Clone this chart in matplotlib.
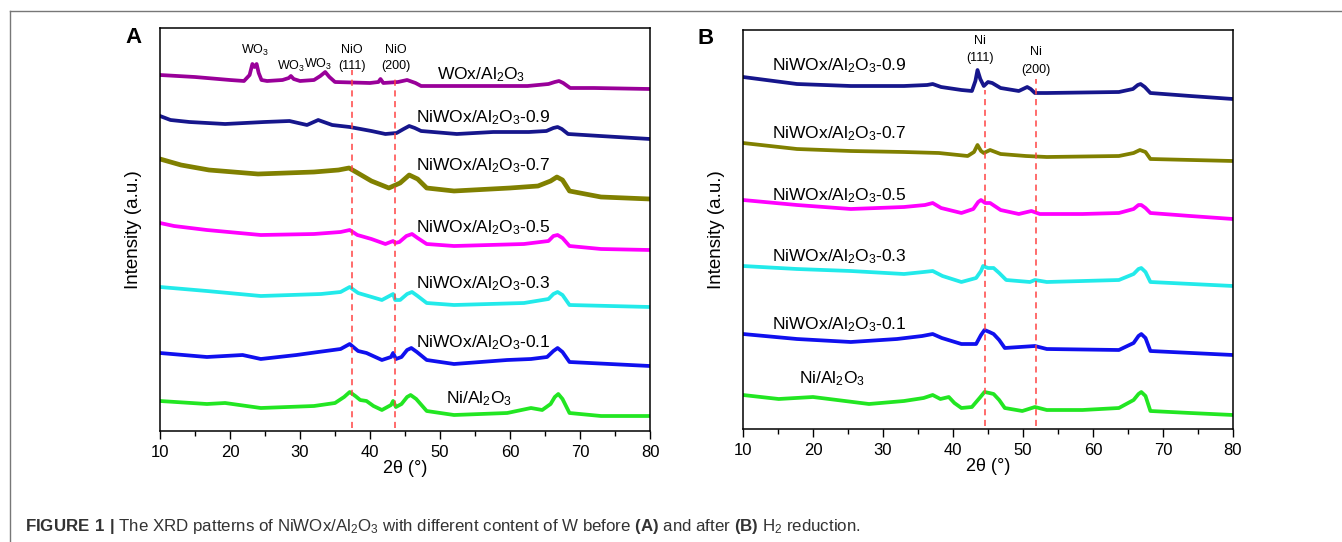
import matplotlib.pyplot as plt

plt.rcParams["font.family"] = ["Liberation Sans", "DejaVu Sans"]
plt.rcParams["mathtext.fontset"] = "custom"
plt.rcParams["mathtext.rm"] = "Liberation Sans"
plt.rcParams["mathtext.bf"] = "Liberation Sans:bold"
plt.rcParams["mathtext.default"] = "regular"

# ---------------------------
# Panel A: before reduction (offset intensity, a.u.)
# ---------------------------
a_wox_x = [10, 15, 20, 22, 22.8, 23.2, 23.5, 23.8, 24.1, 24.5, 25.3, 27.5, 28.4, 28.7, 29.1, 30, 32, 32.9, 33.6, 34.2, 35,
           40, 41.2, 41.5, 41.9, 44, 45.3, 46.5, 47.3, 55, 62.5, 65.5, 66.4, 67.0, 67.6, 68.6, 72, 80]
a_wox_y = [356, 354, 351, 350, 356, 367, 364, 367, 358, 351, 350, 351, 353, 355, 352, 350, 351, 355, 359, 354, 349,
           348, 349, 352, 348, 349, 351, 348, 345, 345, 345, 347, 349, 350, 348, 343, 343, 342]

a_09_x = [10, 11.5, 14.2, 19.3, 24.9, 28.5, 31.0, 32.6, 34.6, 37.1, 40.2, 42.2, 43.8, 44.8, 45.6, 46.4, 47.3, 52.4,
          57.6, 62.7, 65.2, 66.2, 66.8, 67.4, 68.3, 72.9, 80]
a_09_y = [315, 311, 309, 307, 309, 310, 306, 311, 306, 304, 300, 297, 298, 302, 305, 303, 300, 297,
          299, 299, 300, 303, 304, 302, 297, 295, 292]

a_07_x = [10, 11, 13, 17, 24, 32, 35.5, 37.0, 38.0, 40.2, 42.7, 44.3, 45.6, 46.8, 48.1, 52, 60, 64, 65.8, 66.7, 67.5,
          68.5, 73, 80]
a_07_y = [272, 270, 266, 261, 257, 259, 261, 263, 259, 250, 243, 248, 256, 252, 243, 240, 243, 245, 250, 254, 251,
          240, 234, 232]

a_05_x = [10, 12, 16.7, 24.4, 32, 35.8, 37.1, 38.2, 40.2, 42.2, 43.3, 43.6, 44.2, 45.2, 46.0, 46.8, 48.1, 52, 62,
          65.5, 66.2, 66.8, 67.5, 68.5, 73, 80]
a_05_y = [208, 205, 201, 196, 197, 199, 201, 196, 192, 187, 190, 188, 189, 195, 197, 193, 187, 185, 187,
          190, 195, 196, 193, 185, 182, 181]

a_03_x = [10, 16.7, 24.4, 33, 35.8, 37.1, 38.3, 41.7, 43.3, 43.6, 44.3, 45.3, 46.0, 46.8, 48.1, 52, 62, 65.5, 66.2,
          66.8, 67.5, 68.5, 80]
a_03_y = [144, 140, 135, 137, 139, 144, 138, 131, 137, 131, 131, 137, 139, 135, 128, 126, 128, 132, 137,
          139, 136, 126, 124]

a_01_x = [10, 16.7, 21.8, 24.4, 29.5, 32.6, 35.8, 37.1, 38.3, 39.5, 41.7, 43.0, 43.3, 43.7, 44.5, 45.3, 45.9, 46.7,
          48.1, 52, 59.6, 63.0, 65.3, 66.2, 66.8, 67.5, 68.5, 80]
a_01_y = [78, 74, 76, 72, 76, 79, 82, 87, 80, 78, 71, 74, 78, 72, 74, 81, 83, 79,
          71, 67, 71, 72, 74, 80, 83, 79, 69, 65]

a_ni_x = [10, 16.7, 19.3, 24.4, 32, 35, 36.3, 37.1, 37.9, 38.6, 39.5, 40.5, 41.7, 43.0, 43.3, 43.7, 44.5, 45.3, 45.8,
          46.6, 48.1, 52, 59.6, 63.0, 64.6, 65.8, 66.4, 66.9, 67.5, 68.5, 73, 80]
a_ni_y = [30, 27, 28, 23, 25, 28, 34, 39, 35, 31, 30, 25, 21, 26, 30, 24, 27, 34, 36,
          32, 20, 16, 18, 23, 21, 27, 34, 37, 32, 18, 15, 15]

# ---------------------------
# Panel B: after H2 reduction
# ---------------------------
b_09_x = [10, 17.7, 25.4, 33.0, 36.3, 37.1, 38.3, 41.2, 42.7, 43.2, 43.5, 43.9, 44.4, 45.0, 45.6, 46.8, 49.4, 50.3,
          50.6, 51.1, 51.7, 53.4, 63.7, 65.7, 66.4, 66.8, 67.4, 68.2, 73.9, 80]
b_09_y = [352, 345, 343, 343, 344, 345, 342, 339, 338, 348, 359, 350, 343, 347, 346, 341, 338, 341,
          342, 340, 336, 336, 337, 340, 344, 345, 342, 336, 333, 330]

b_07_x = [10, 17.7, 25.4, 33.0, 38, 42.1, 43.0, 43.5, 44.0, 44.4, 45.3, 46.8, 50.4, 53.4, 63.7, 65.8, 66.7, 67.5,
          68.2, 80]
b_07_y = [286, 280, 278, 277, 276, 273, 277, 284, 278, 276, 279, 275, 273, 272, 273, 276, 279, 277,
          270, 268]

b_05_x = [10, 17.7, 25.4, 33.0, 36.0, 37.1, 38.3, 41.2, 42.9, 43.6, 44.0, 44.6, 45.3, 46.8, 49.4, 51.2, 52.4, 58.5,
          63.7, 65.8, 66.5, 66.9, 67.5, 68.2, 73.9, 80]
b_05_y = [229, 224, 220, 222, 224, 226, 221, 216, 220, 227, 229, 226, 226, 219, 215, 218, 215, 215,
          216, 220, 224, 224, 221, 216, 213, 210]

b_03_x = [10, 17.7, 25.4, 33.0, 35.8, 37.1, 38.5, 41.2, 43.3, 44.0, 44.3, 45.0, 45.8, 46.6, 47.6, 51.0, 51.7, 53.4,
          63.7, 65.8, 66.5, 66.9, 67.5, 68.2, 80]
b_03_y = [163, 160, 158, 155, 157, 158, 153, 147, 151, 158, 163, 161, 161, 156, 149, 147, 149, 147,
          149, 155, 160, 161, 157, 147, 143]

b_01_x = [10, 17.7, 25.4, 32.0, 35.6, 37.1, 38.4, 41.2, 43.3, 44.0, 44.5, 45.2, 45.8, 46.6, 47.4, 51.7, 53.4, 63.7,
          65.8, 66.5, 66.9, 67.5, 68.2, 80]
b_01_y = [95, 90, 87, 90, 93, 95, 91, 85, 85, 94, 99, 97, 95, 89, 81, 83, 80, 79,
          86, 93, 95, 91, 78, 74]

b_ni_x = [10, 15.1, 20.0, 28.0, 33.0, 35.8, 37.1, 38.2, 39.4, 40.2, 41.2, 42.7, 43.8, 44.5, 45.2, 45.8, 46.6, 47.4,
          49.9, 51.7, 53.4, 58.5, 63.7, 65.8, 66.5, 66.9, 67.5, 68.2, 73.9, 80]
b_ni_y = [34, 30, 32, 25, 28, 31, 34, 30, 32, 26, 21, 22, 31, 37, 36, 35, 29, 21,
          18, 22, 19, 19, 21, 29, 35, 37, 33, 18, 16, 14]

a_series = [
    (a_wox_x, a_wox_y, "#990099"),
    (a_09_x, a_09_y, "#16168c"),
    (a_07_x, a_07_y, "#808000"),
    (a_05_x, a_05_y, "#ff00ff"),
    (a_03_x, a_03_y, "#22eaea"),
    (a_01_x, a_01_y, "#1010ee"),
    (a_ni_x, a_ni_y, "#22e622"),
]
b_series = [
    (b_09_x, b_09_y, "#16168c"),
    (b_07_x, b_07_y, "#808000"),
    (b_05_x, b_05_y, "#ff00ff"),
    (b_03_x, b_03_y, "#22eaea"),
    (b_01_x, b_01_y, "#1010ee"),
    (b_ni_x, b_ni_y, "#22e622"),
]

# reference lines (position, top)
a_ref_x = [37.4, 43.5]
a_ref_top = [361, 354]
b_ref_x = [44.6, 51.9]
b_ref_top = [339, 350]

a_labels = ["WOx/Al$_2$O$_3$", "NiWOx/Al$_2$O$_3$-0.9", "NiWOx/Al$_2$O$_3$-0.7",
            "NiWOx/Al$_2$O$_3$-0.5", "NiWOx/Al$_2$O$_3$-0.3", "NiWOx/Al$_2$O$_3$-0.1",
            "Ni/Al$_2$O$_3$"]
b_labels = ["NiWOx/Al$_2$O$_3$-0.9", "NiWOx/Al$_2$O$_3$-0.7", "NiWOx/Al$_2$O$_3$-0.5",
            "NiWOx/Al$_2$O$_3$-0.3", "NiWOx/Al$_2$O$_3$-0.1", "Ni/Al$_2$O$_3$"]

W, H = 1342, 542
fig = plt.figure(figsize=(W / 100, H / 100), dpi=100)

# outer frame (top and left only)
fig.add_artist(plt.Line2D([9.5 / W, 1], [1 - 10.5 / H, 1 - 10.5 / H], color="#777777", lw=1.0))
fig.add_artist(plt.Line2D([9.5 / W, 9.5 / W], [0, 1 - 10.5 / H], color="#777777", lw=1.0))

axA = fig.add_axes([160 / W, 111 / H, 490 / W, 403 / H])
axB = fig.add_axes([743 / W, 113 / H, 490 / W, 399 / H])


def style(ax, ytop):
    ax.set_xlim(10, 80)
    ax.set_ylim(0, ytop)
    ax.set_xticks(range(10, 81, 10))
    ax.set_xticks(range(15, 80, 10), minor=True)
    ax.set_yticks([])
    ax.tick_params(axis="x", which="major", direction="out", length=6, width=1, labelsize=12, pad=4)
    ax.tick_params(axis="x", which="minor", direction="out", length=3.5, width=1)
    for s in ax.spines.values():
        s.set_linewidth(1.1)
    ax.set_xlabel("2θ (°)", fontsize=13, labelpad=0)
    ax.set_ylabel("Intensity (a.u.)", fontsize=13.5, labelpad=13)


style(axA, 403)
style(axB, 399)

for x, y, c in a_series:
    axA.plot(x, y, color=c, lw=3.4 if c == "#808000" else 2.7, solid_joinstyle="round")
for x, y, c in b_series:
    axB.plot(x, y, color=c, lw=2.7, solid_joinstyle="round")

axA.vlines(a_ref_x, 3, a_ref_top, colors="#ff4444", linestyles=(0, (4, 3)), lw=1.1)
axB.vlines(b_ref_x, 3, b_ref_top, colors="#ff4444", linestyles=(0, (4, 3)), lw=1.1)

# series labels
a_lab_pos = [(49.6, 356), (46.6, 313), (46.6, 265), (46.6, 203), (46.6, 147), (46.6, 88), (50.9, 32)]
for (lx, ly), t in zip(a_lab_pos, a_labels):
    axA.text(lx, ly, t, fontsize=12.5, ha="left", va="center")
b_lab_pos = [(14.1, 363), (14.1, 295), (14.1, 233), (14.1, 172), (14.1, 104), (18.0, 50)]
for (lx, ly), t in zip(b_lab_pos, b_labels):
    axB.text(lx, ly, t, fontsize=12.5, ha="left", va="center")

# peak annotations
small = dict(fontsize=9, ha="center", va="center")
axA.text(23.6, 381, "WO$_3$", **small)
axA.text(28.7, 365, "WO$_3$", **small)
axA.text(32.6, 367, "WO$_3$", **small)
axA.text(37.4, 381, "NiO", **small)
axA.text(37.4, 365, "(111)", **small)
axA.text(43.7, 381, "NiO", **small)
axA.text(43.7, 365, "(200)", **small)
axB.text(43.9, 388, "Ni", **small)
axB.text(43.9, 371, "(111)", **small)
axB.text(51.8, 377, "Ni", **small)
axB.text(51.8, 359, "(200)", **small)

fig.text(133 / W, 1 - 38 / H, "A", fontsize=16, fontweight="bold", ha="center", va="center")
fig.text(706 / W, 1 - 39 / H, "B", fontsize=16, fontweight="bold", ha="center", va="center")

fig.text(25 / W, 1 - 526 / H,
         r"$\mathbf{FIGURE\ 1\ |}$ The XRD patterns of NiWOx/Al$_2$O$_3$ with different content of W before "
         r"$\mathbf{(A)}$ and after $\mathbf{(B)}$ H$_2$ reduction.",
         fontsize=12.2, color="#333333", ha="left", va="center")

fig.savefig("out.png", dpi=100)
